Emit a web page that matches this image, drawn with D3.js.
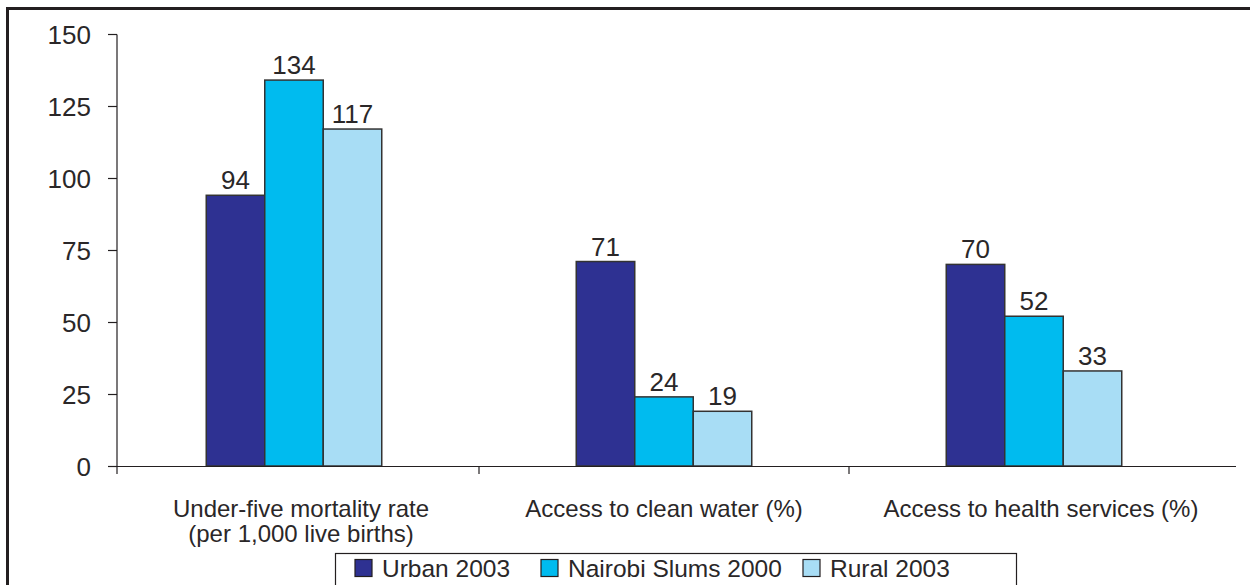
<!DOCTYPE html>
<html><head><meta charset="utf-8">
<script src="https://cdn.jsdelivr.net/npm/d3@7"></script>
<style>html,body{margin:0;padding:0;background:#fff;} svg{display:block;}</style>
</head><body>
<script>
const categories = [["Under-five mortality rate","(per 1,000 live births)"],["Access to clean water (%)"],["Access to health services (%)"]];
const seriesNames = ["Urban 2003","Nairobi Slums 2000","Rural 2003"];
const urban = [94, 71, 70];
const slums = [134, 24, 52];
const rural = [117, 19, 33];
const yTicks = [0, 25, 50, 75, 100, 125, 150];
const colors = ["#2E3192", "#00BBEF", "#A8DDF5"];

const W = 1250, H = 585;
const svg = d3.select("body").append("svg").attr("width", W).attr("height", H);
const font = "'Liberation Sans', Arial, sans-serif";
const textCol = "#2a2728";

// frame
svg.append("path").attr("d", `M7.5,${H+5} L7.5,8.5 L${W+5},8.5`).attr("fill","none").attr("stroke","#231f20").attr("stroke-width",3);

const y = d3.scaleLinear().domain([0,150]).range([466,34]);
const x0 = d3.scaleBand().domain(d3.range(categories.length)).range([109,1219]).paddingInner(0).paddingOuter(0);
const x1 = d3.scaleBand().domain(d3.range(seriesNames.length)).range([0,175.5]);

const series = [urban, slums, rural];

// y axis
const yAxis = svg.append("g").attr("transform","translate(117,0)")
  .call(d3.axisLeft(y).tickValues(yTicks).tickSize(9).tickPadding(17));
yAxis.select(".domain").attr("stroke","#231f20").attr("stroke-width",1.2).attr("d","M0,34.5V466");
yAxis.selectAll(".tick line").attr("stroke","#231f20").attr("stroke-width",1.2);
yAxis.selectAll(".tick text").attr("font-family",font).attr("font-size",26).attr("fill",textCol).attr("dy","0.35em");

// bars
const groups = svg.append("g").selectAll("g").data(categories).join("g")
  .attr("transform",(d,i)=>`translate(${x0(i)+x0.bandwidth()/2-87.75},0)`);
groups.each(function(c,i){
  const g = d3.select(this);
  series.forEach((s,j)=>{
    g.append("rect").attr("x",x1(j)).attr("y",y(s[i])).attr("width",x1.bandwidth()).attr("height",y(0)-y(s[i]))
      .attr("fill",colors[j]).attr("stroke","#333").attr("stroke-width",1.5);
    g.append("text").attr("x",x1(j)+x1.bandwidth()/2).attr("y",y(s[i])-6).attr("text-anchor","middle")
      .attr("font-family",font).attr("font-size",26).attr("fill",textCol).text(s[i]);
  });
});

// x axis
const xAxisG = svg.append("g");
xAxisG.append("line").attr("x1",108).attr("x2",1236).attr("y1",466.5).attr("y2",466.5).attr("stroke","#231f20").attr("stroke-width",1.2);
[117, x0(1), x0(2)].forEach(t=>{
  xAxisG.append("line").attr("x1",t).attr("x2",t).attr("y1",466).attr("y2",474).attr("stroke","#231f20").attr("stroke-width",1.2);
});
const labelShift = i => (i === 1 ? 0 : 7);
categories.forEach((c,i)=>{
  const t = svg.append("text").attr("text-anchor","middle").attr("font-family",font).attr("font-size",24).attr("fill",textCol);
  c.forEach((line,k)=>{
    t.append("tspan").attr("x",x0(i)+x0.bandwidth()/2+labelShift(i)).attr("y",517+k*25).text(line);
  });
});

// legend
svg.append("rect").attr("x",335.5).attr("y",553.5).attr("width",681).attr("height",50).attr("fill","#fff").attr("stroke","#231f20").attr("stroke-width",1.2);
const legX = [355, 541, 803];
seriesNames.forEach((n,j)=>{
  svg.append("rect").attr("x",legX[j]).attr("y",559.5).attr("width",17).attr("height",17).attr("fill",colors[j]).attr("stroke","#231f20").attr("stroke-width",1.2);
  svg.append("text").attr("x",legX[j]+27).attr("y",577).attr("font-family",font).attr("font-size",24.5).attr("fill",textCol).text(n);
});
</script>
</body></html>
